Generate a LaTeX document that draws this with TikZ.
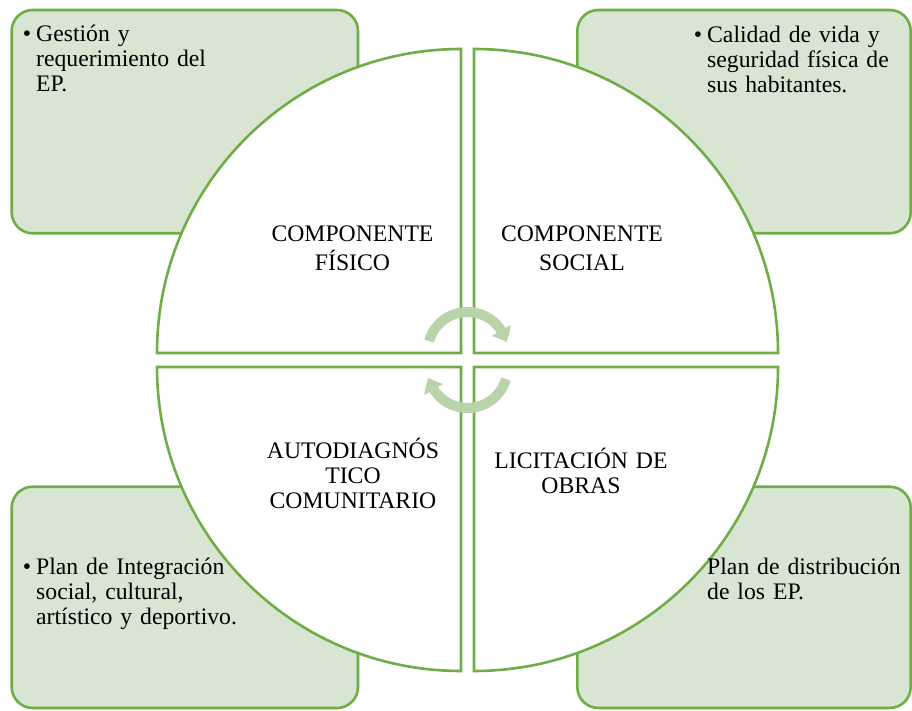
\documentclass[tikz,border=0pt]{standalone}
\usepackage{fontspec}
\setmainfont{Liberation Serif}
\usetikzlibrary{arrows.meta,bending,calc}
\definecolor{edgegreen}{RGB}{112,173,71}
\definecolor{boxfill}{RGB}{217,229,211}
\definecolor{arrowgreen}{RGB}{185,212,170}
\tikzset{
  sidebox/.style={draw=edgegreen, line width=2.6pt, fill=boxfill, rounded corners=21pt},
  quarter/.style={draw=edgegreen, line width=2.6pt, fill=white},
  cyclearrow/.style={draw=arrowgreen, line width=10pt, -{Triangle[width=21pt,length=13pt,bend]}},
  boxtext/.style={anchor=base west, text width=300pt, align=left, inner sep=0pt,
    font=\fontsize{23.7}{25}\selectfont},
  quartertext/.style={anchor=base, text width=220pt, align=center, inner sep=0pt,
    font=\fontsize{23.7}{25}\selectfont}
}
\begin{document}
\begin{tikzpicture}[x=1pt,y=1pt]
\useasboundingbox (0,0) rectangle (912,710);
% side boxes
\draw[sidebox] (11.7,476.7) rectangle (358,700);
\draw[sidebox] (577.3,476.7) rectangle (910.7,700);
\draw[sidebox] (11.7,2) rectangle (358,223.3);
\draw[sidebox] (577.3,2) rectangle (910.7,223.3);
% quarters of the circle
\coordinate (ctl) at (461,357);
\coordinate (ctr) at (474,357);
\coordinate (cbl) at (461,343);
\coordinate (cbr) at (474,343);
\draw[quarter] (ctl) -- ++(-304,0) arc[start angle=180, end angle=90, radius=304pt] -- cycle;
\draw[quarter] (ctr) -- ++(0,304) arc[start angle=90, end angle=0, radius=304pt] -- cycle;
\draw[quarter] (cbl) -- ++(0,-304) arc[start angle=270, end angle=180, radius=304pt] -- cycle;
\draw[quarter] (cbr) -- ++(304,0) arc[start angle=0, end angle=-90, radius=304pt] -- cycle;
% cycle arrows
\coordinate (uc) at (467.5,358);
\coordinate (lc) at (467.5,342);
\draw[cyclearrow] ($(uc)+(164:40pt)$) arc[start angle=164, end angle=14, radius=40pt];
\draw[cyclearrow] ($(lc)+(344:40pt)$) arc[start angle=344, end angle=194, radius=40pt];
% quarter labels
\node[quartertext] (fis) at (352.5,468) {COMPONENTE\\[4pt]FÍSICO};
\node[quartertext] (soc) at (582,468) {COMPONENTE\\[4pt]SOCIAL};
\node[quartertext] (aut) at (353,252) {AUTODIAGNÓS\\TICO\\COMUNITARIO};
\node[quartertext] (lic) at (581,242) {LICITACIÓN DE\\OBRAS};
% box texts
\node[boxtext] (tl) at (36,668) {\llap{•\hspace{5pt}}Gestión y\\requerimiento del\\EP.};
\node[boxtext] (tr) at (707,667) {\llap{•\hspace{5pt}}Calidad de vida y\\seguridad física de\\sus habitantes.};
\node[boxtext] (bl) at (36,136) {\llap{•\hspace{5pt}}Plan de Integración\\social, cultural,\\artístico y deportivo.};
\node[boxtext] (br) at (707,136) {Plan de distribución\\de los EP.};
\end{tikzpicture}
\end{document}
